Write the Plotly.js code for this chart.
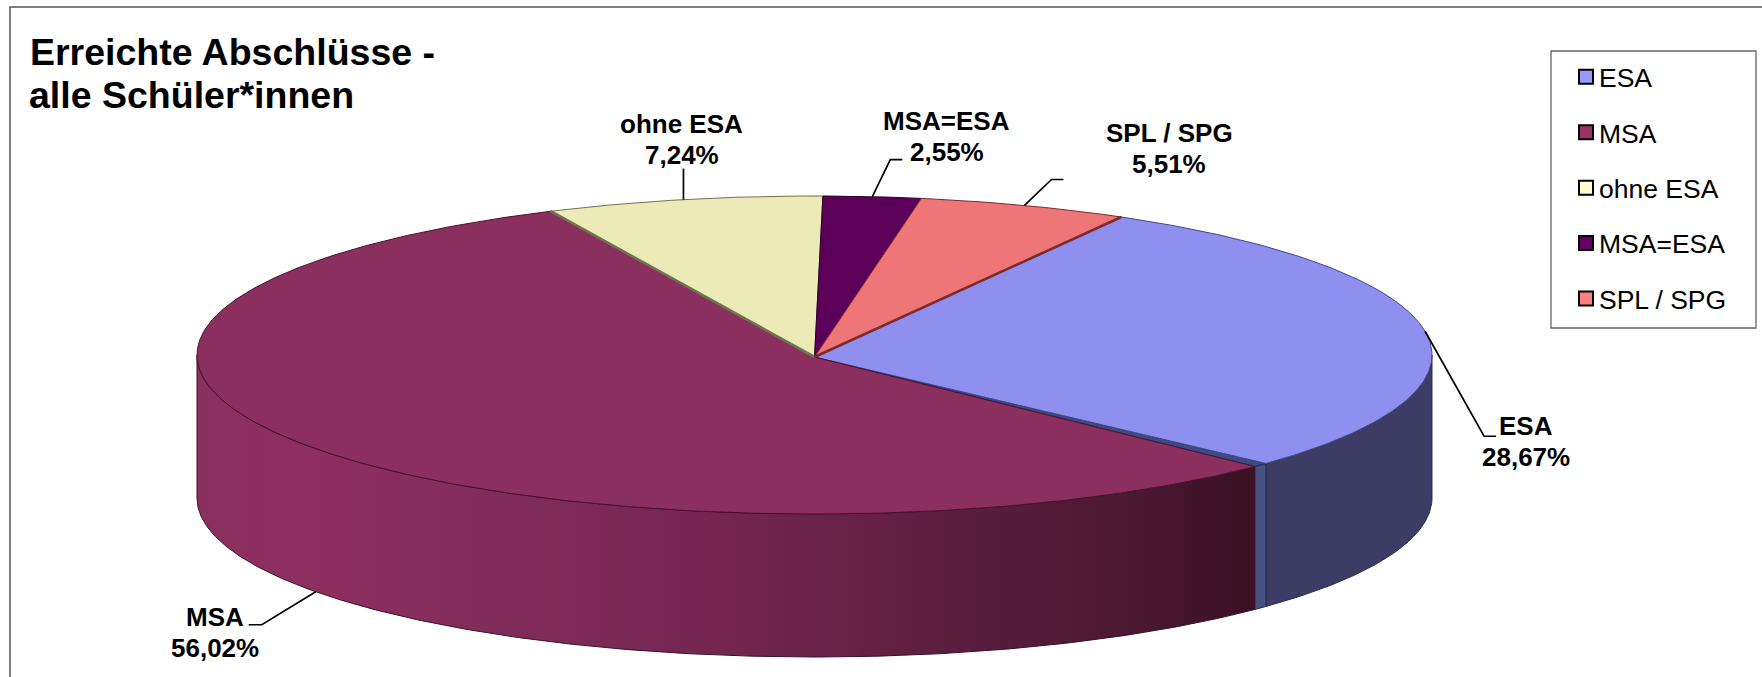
<!DOCTYPE html>
<html>
<head>
<meta charset="utf-8">
<script src="https://cdn.plot.ly/plotly-3.0.1.min.js"></script>
<style>html,body{margin:0;padding:0;background:#fff}#chart{width:1762px;height:677px}</style>
</head>
<body>
<div id="chart"></div>
<script>
// --- data ---
const categories = ['ESA', 'MSA', 'ohne ESA', 'MSA=ESA', 'SPL / SPG'];
const shares = [28.67, 56.02, 7.24, 2.55, 5.51];
const faceColors = ['#8f8ff0', '#8b2f5e', '#ecebb8', '#5d0059', '#ee7676'];
const legendColors = ['#9999ff', '#993366', '#ffffcc', '#660066', '#ff8080'];
const edgeColors = ['#3d4a85', '#4a1030', '#6d7350', '#2a0028', '#7a2a30'];
const titleLines = ['Erreichte Abschlüsse -', 'alle Schüler*innen'];

// --- pie projection (style/layout) ---
const P = {cx: 814.5, cy: 355, rx: 617.5, ry: 159, depth: 143, apexY: 357, start: 29.8};
const FONT = '"Liberation Sans", Arial, sans-serif';
const total = shares.reduce((a, b) => a + b, 0);
const rad = d => d * Math.PI / 180;
const px = a => P.cx + P.rx * Math.sin(rad(a));
const py = a => P.cy - P.ry * Math.cos(rad(a));
function arc(a0, a1, dy) {
  const xs = [], ys = [], n = Math.max(2, Math.ceil(Math.abs(a1 - a0) * 2));
  for (let i = 0; i <= n; i++) {
    const a = a0 + (a1 - a0) * i / n;
    xs.push(px(a)); ys.push(py(a) + (dy || 0));
  }
  return {xs, ys};
}
const bounds = [P.start];
shares.forEach(v => bounds.push(bounds[bounds.length - 1] + v / total * 360));
const mids = shares.map((_, i) => (bounds[i] + bounds[i + 1]) / 2);

const CUT = 1.5; // degrees of the visible cut face between ESA and MSA
const traces = [];
function wall(a0, a1, extra) {
  const t = arc(a0, a1, 0), b = arc(a1, a0, P.depth);
  traces.push(Object.assign({
    type: 'scatter', mode: 'lines', x: t.xs.concat(b.xs, [t.xs[0]]), y: t.ys.concat(b.ys, [t.ys[0]]),
    fill: 'toself', hoverinfo: 'skip', showlegend: false
  }, extra));
}
// ESA outer wall
wall(90, bounds[1], {fillcolor: '#3c3c64', line: {color: '#2a2a50', width: 1}});
// ESA cut face
wall(bounds[1], bounds[1] + CUT, {fillcolor: '#45507f', line: {color: '#2a2a50', width: 1}});
// MSA outer wall with its lighting gradient
wall(bounds[1] + CUT, 270, {
  fillcolor: '#8b2f5e',
  fillgradient: {
    type: 'horizontal', start: px(270), stop: px(bounds[1] + CUT),
    colorscale: [[0, '#8a305f'], [0.1, '#8e2f5f'], [0.3, '#802c58'], [0.5, '#74264f'],
                 [0.72, '#5b1e3d'], [0.9, '#481830'], [1, '#3a1022']]
  },
  line: {color: '#3a0f2a', width: 1}
});

// dark wedge seen between the ESA and MSA top faces
const gap = arc(bounds[1], bounds[1] + CUT, 0);
traces.push({
  type: 'scatter', mode: 'lines', x: [P.cx].concat(gap.xs, [P.cx]), y: [P.apexY].concat(gap.ys, [P.apexY]),
  fill: 'toself', fillcolor: '#3d4a85', line: {color: '#2a2a50', width: 1}, hoverinfo: 'skip', showlegend: false
});

// top faces
shares.forEach((v, i) => {
  const a0 = bounds[i] + (i === 1 ? CUT : 0), a1 = bounds[i + 1];
  const r = arc(a0, a1, 0);
  traces.push({
    type: 'scatter', mode: 'lines', name: categories[i],
    x: [P.cx].concat(r.xs, [P.cx]), y: [P.apexY].concat(r.ys, [P.apexY]),
    fill: 'toself', fillcolor: faceColors[i], line: {color: edgeColors[i], width: 1},
    showlegend: false, hovertemplate: categories[i] + ': ' + v + '%<extra></extra>'
  });
});
// thin visible edges along slice boundaries
[[bounds[2], 2], [bounds[5], 4]].forEach(([a, col]) => {
  traces.push({
    type: 'scatter', mode: 'lines', x: [P.cx, px(a)], y: [P.apexY, py(a)],
    line: {color: edgeColors[col], width: 2.6}, hoverinfo: 'skip', showlegend: false
  });
});

// leader lines (start on the rim at the middle of each slice)
const leaderOffsets = [
  [[59, 105], [71, 105]],       // ESA
  [[-54, 33], [-67, 33]],       // MSA
  [[0, -31], [0, -31]],         // ohne ESA
  [[18, -37], [30, -37]],       // MSA=ESA
  [[27, -26], [39, -26]]        // SPL / SPG
];
shares.forEach((_, i) => {
  const x0 = px(mids[i]), y0 = py(mids[i]) + (i === 1 ? P.depth : 0);
  const o = leaderOffsets[i];
  traces.push({
    type: 'scatter', mode: 'lines',
    x: [x0, x0 + o[0][0], x0 + o[1][0]], y: [y0, y0 + o[0][1], y0 + o[1][1]],
    line: {color: '#000', width: 1.7}, hoverinfo: 'skip', showlegend: false
  });
});

// legend entries
categories.forEach((c, i) => {
  traces.push({
    type: 'scatter', mode: 'markers', name: c, x: [null], y: [null], legendgroup: c,
    marker: {symbol: 'square', size: 14, color: legendColors[i], line: {color: '#000', width: 2}},
    hoverinfo: 'skip'
  });
});

// data labels: [centre x, first baseline]
const labelSpots = [[1526, 435], [215, 626], [681.5, 133], [946.5, 130], [1169, 142]];
const LH = 31, LFS = 26;
const annotations = [];
categories.forEach((c, i) => {
  const [lx, by] = labelSpots[i];
  [c, shares[i].toFixed(2).replace('.', ',') + '%'].forEach((txt, k) => {
    annotations.push({
      xref: 'x', yref: 'y', x: lx, y: by + k * LH - 0.36 * LFS, text: '<b>' + txt + '</b>',
      showarrow: false, xanchor: 'center', yanchor: 'middle', borderpad: 0,
      font: {family: FONT, size: LFS, color: '#000'}
    });
  });
});
// second title line, at the tighter line spacing of the reference
annotations.push({
  xref: 'x', yref: 'y', x: 28, y: 108 - 0.36 * 37.5, text: '<b>' + titleLines[1] + '</b>',
  showarrow: false, xanchor: 'left', yanchor: 'middle', borderpad: 0,
  font: {family: FONT, size: 37.5, color: '#000'}
});

const layout = {
  width: 1762, height: 677,
  margin: {l: 0, r: 0, t: 0, b: 0},
  paper_bgcolor: '#fff', plot_bgcolor: '#fff',
  title: {
    text: '<b>' + titleLines[0] + '</b>',
    x: 30 / 1762, xref: 'paper', xanchor: 'left',
    y: 1 - 39 / 677, yref: 'paper', yanchor: 'top',
    font: {family: FONT, size: 37.5, color: '#000'}
  },
  xaxis: {range: [0, 1762], visible: false, fixedrange: true},
  yaxis: {range: [677, 0], visible: false, fixedrange: true},
  showlegend: true,
  legend: {
    x: 1559 / 1762, xanchor: 'left', y: 1 - 53 / 677, yanchor: 'top',
    bgcolor: 'rgba(0,0,0,0)', borderwidth: 0, tracegroupgap: 18,
    font: {family: FONT, size: 26.5, color: '#000'}, traceorder: 'grouped', itemclick: false, itemdoubleclick: false
  },
  shapes: [
    {type: 'path', xref: 'x', yref: 'y', path: 'M 10 677 L 10 7 L 1762 7', line: {color: '#555', width: 1.5}},
    {type: 'rect', xref: 'x', yref: 'y', x0: 1551, x1: 1756, y0: 51, y1: 328, line: {color: '#666', width: 1.3}, fillcolor: 'rgba(0,0,0,0)'}
  ],
  annotations
};
const SWATCH_SHIFT = 7; // the reference sets its swatches closer to the text than Plotly's fixed gap
Plotly.newPlot('chart', traces, layout, {displayModeBar: false}).then(gd => {
  gd.querySelectorAll('.legend .legendsymbols').forEach(n => n.setAttribute('transform', 'translate(' + SWATCH_SHIFT + ',0)'));
});
</script>
</body>
</html>
